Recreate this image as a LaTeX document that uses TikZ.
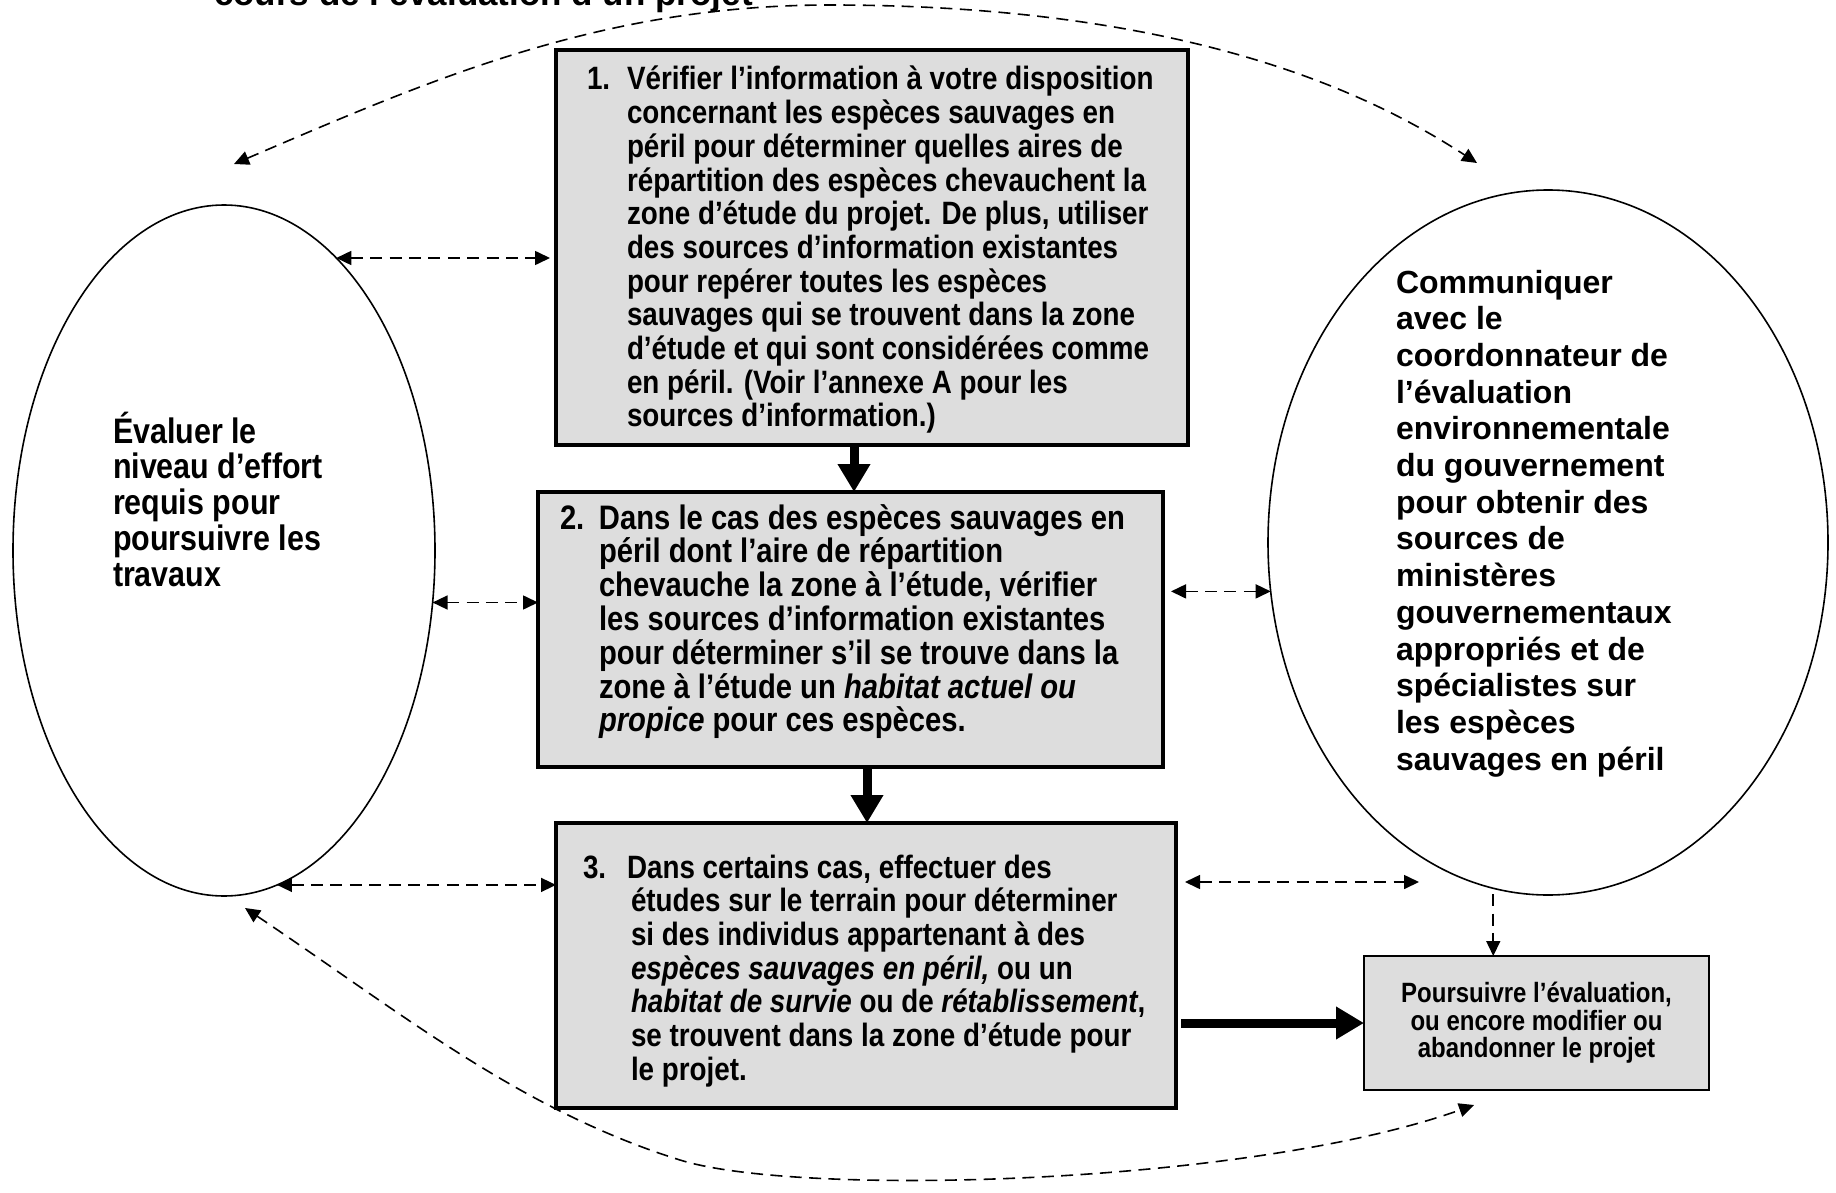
\documentclass[tikz,border=0pt]{standalone}
\usepackage{fontspec}
\setmainfont{Liberation Sans}
\newfontfamily\narrowsans[FakeStretch=0.86]{Liberation Sans}
\usetikzlibrary{shapes.geometric,arrows.meta}
\definecolor{boxgray}{RGB}{221,221,221}
\newcommand\numlbl[2]{\leavevmode\llap{\makebox[#1][l]{#2}}}
\newcommand\linesblock[1]{\parbox[t]{420pt}{\raggedright #1}}
\begin{document}
\begin{tikzpicture}[x=0.5pt,y=-0.5pt,
  stepbox/.style={draw, line width=1.8pt, fill=boxgray, inner sep=0pt, outer sep=0pt},
  finbox/.style={draw, line width=1.1pt, fill=boxgray, inner sep=0pt, outer sep=0pt, align=center,
    font=\narrowsans\bfseries\fontsize{13.95}{13.75}\selectfont},
  oval/.style={draw, ellipse, line width=0.8pt, inner sep=0pt, outer sep=0pt},
  dashlink/.style={line width=0.8pt, dash pattern=on 6pt off 3.7pt,
    {Triangle[length=7.5pt,width=7pt]}-{Triangle[length=7.5pt,width=7pt]}},
  dashone/.style={line width=0.8pt, dash pattern=on 6pt off 3.7pt,
    -{Triangle[length=7.5pt,width=7pt]}},
  bigarrow/.style={line width=4.5pt, -{Triangle[length=14pt,width=15.5pt]}},
  txt/.style={anchor=base west, inner sep=0pt, outer sep=0pt},
  boxtxt/.style={txt, font=\narrowsans\bfseries\fontsize{16.16}{16.85}\selectfont},
  boxtxtb/.style={txt, font=\narrowsans\bfseries\fontsize{16.98}{16.9}\selectfont}
]
\useasboundingbox (0,0) rectangle (1836,1193);

% title (cut at the top edge, as in the reference)
\node[txt, font=\bfseries\fontsize{17.5}{20}\selectfont] (title) at (214,6) {cours de l’évaluation d’un projet};

% ellipses
\node[oval, minimum width=211pt, minimum height=345.5pt] (e1) at (224,550.5) {};
\node[oval, minimum width=280pt, minimum height=352.5pt] (e2) at (1548,542.5) {};

% boxes
\node[stepbox, minimum width=316pt, minimum height=197.5pt] (b1) at (872,247.5) {};
\node[stepbox, minimum width=312.5pt, minimum height=137.5pt] (b2) at (850.5,629.5) {};
\node[stepbox, minimum width=310pt, minimum height=142.5pt] (b3) at (866,965.5) {};
\node[finbox, minimum width=172.5pt, minimum height=67pt] (fin) at (1536.5,1023)
  {Poursuivre l’évaluation,\\ou encore modifier ou\\abandonner le projet};

% box texts
\node[boxtxt] (t1) at (627,90) {\linesblock{\numlbl{20pt}{1.}Vérifier l’information à votre disposition\\
concernant les espèces sauvages en\\
péril pour déterminer quelles aires de\\
répartition des espèces chevauchent la\\
zone d’étude du projet. De plus, utiliser\\
des sources d’information existantes\\
pour repérer toutes les espèces\\
sauvages qui se trouvent dans la zone\\
d’étude et qui sont considérées comme\\
en péril. (Voir l’annexe A pour les\\
sources d’information.)}};

\node[boxtxtb] (t2) at (599,529) {\linesblock{\numlbl{19.5pt}{2.}Dans le cas des espèces sauvages en\\
péril dont l’aire de répartition\\
chevauche la zone à l’étude, vérifier\\
les sources d’information existantes\\
pour déterminer s’il se trouve dans la\\
zone à l’étude un \textit{habitat actuel ou}\\
\textit{propice} pour ces espèces.}};

\node[boxtxt] (t3) at (627,878) {\linesblock{\numlbl{22pt}{3.}Dans certains cas, effectuer des\\
\hspace*{2pt}études sur le terrain pour déterminer\\
\hspace*{2pt}si des individus appartenant à des\\
\hspace*{2pt}\textit{espèces sauvages en péril,} ou un\\
\hspace*{2pt}\textit{habitat de survie} ou de \textit{rétablissement},\\
\hspace*{2pt}se trouvent dans la zone d’étude pour\\
\hspace*{2pt}le projet.}};

% ellipse texts
\node[txt, font=\narrowsans\bfseries\fontsize{17.7}{17.9}\selectfont] (t4) at (113,443) {\linesblock{%
Évaluer le\\ niveau d’effort\\ requis pour\\ poursuivre les\\ travaux}};

\node[txt, font=\bfseries\fontsize{16}{18.35}\selectfont] (t5) at (1396,293) {\linesblock{%
Communiquer\\ avec le\\ coordonnateur de\\ l’évaluation\\ environnementale\\ du gouvernement\\
pour obtenir des\\ sources de\\ ministères\\ gouvernementaux\\ appropriés et de\\
spécialistes sur\\ les espèces\\ sauvages en péril}};

% thick flow arrows
\coordinate (c12) at (854,0);
\coordinate (c23) at (867,0);
\draw[bigarrow] (b1.south -| c12) -- (b2.north -| c12);
\draw[bigarrow] (b2.south -| c23) -- (b3.north -| c23);
\draw[bigarrow, shorten <=2.5pt] (b3.east |- fin.west) -- (fin.west);

% dashed two-way links
\draw[dashlink, shorten >=3pt] (e1.69.5) -- (b1.west |- e1.69.5);
\draw[dashlink] (e1.-14.66) -- (b2.west |- e1.-14.66);
\draw[dashlink] (e1.-81.03) -- (b3.west |- e1.-81.03);
\draw[dashlink, shorten <=4pt] (b2.east |- e2.190.74) -- (e2.190.74);
\coordinate (f3) at (1419,882);
\draw[dashlink, shorten <=4.5pt] (b3.east |- f3) -- (f3);
\draw[dashone, shorten <=3pt] (e2.261.96) -- (fin.north -| e2.261.96);

% curved links
\coordinate (tl) at (234,164);
\coordinate (tr) at (1477,163);
\coordinate (tp) at (830,5);
\draw[dashlink] (tl) .. controls (430,80) and (600,5) .. (tp) .. controls (1200,5) and (1380,100) .. (tr);
\coordinate (bl) at (245,908);
\coordinate (br) at (1474,1105);
\coordinate (bp) at (680,1160);
\draw[dashlink] (bl) .. controls (400,1012) and (520,1110) .. (bp) .. controls (800,1197.5) and (1250,1185) .. (br);
\end{tikzpicture}
\end{document}
